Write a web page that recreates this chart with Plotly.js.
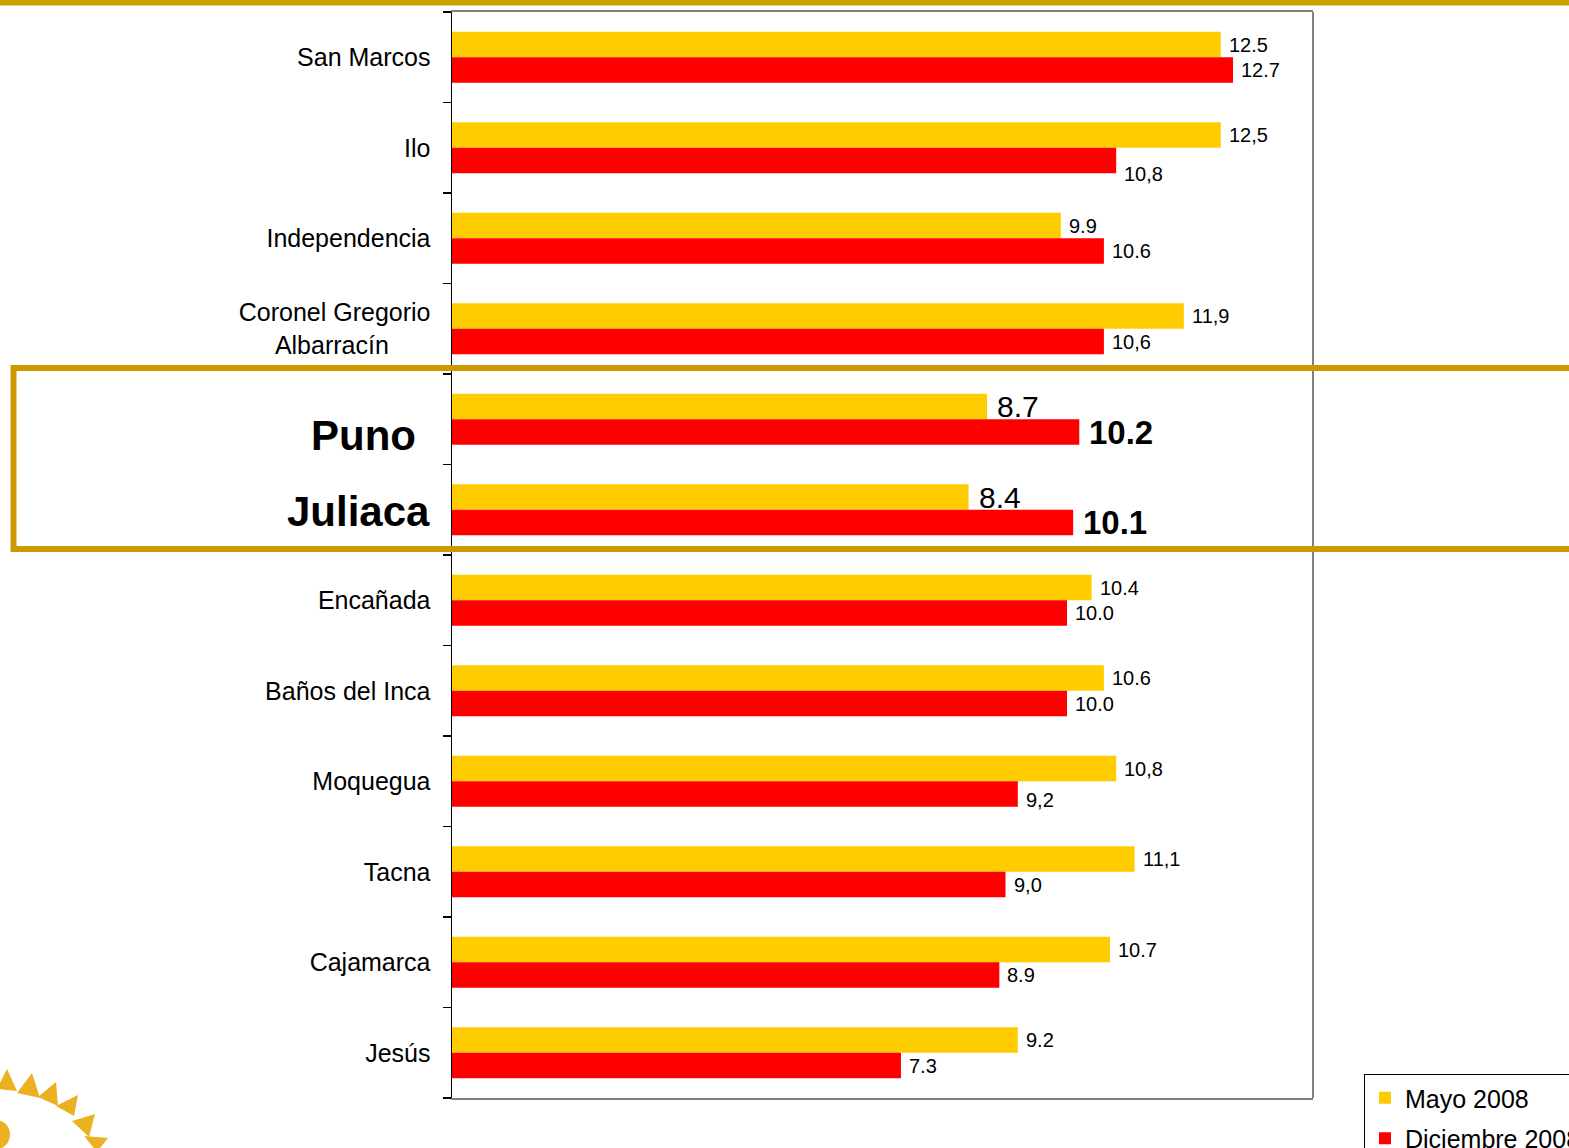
<!DOCTYPE html>
<html>
<head>
<meta charset="utf-8">
<script src="https://cdn.plot.ly/plotly-3.0.1.min.js"></script>
<style>
  html, body { margin: 0; padding: 0; background: #ffffff; }
  #chart { width: 1569px; height: 1148px; }
</style>
</head>
<body>
<div id="chart"></div>
<script>
// ---- Data ----
const categories = ["San Marcos", "Ilo", "Independencia", "Coronel Gregorio Albarracín", "Puno", "Juliaca",
                    "Encañada", "Baños del Inca", "Moquegua", "Tacna", "Cajamarca", "Jesús"];
const tickLabels = ["San Marcos", "Ilo", "Independencia", "Coronel Gregorio<br>Albarracín\u00a0\u00a0\u00a0\u00a0\u00a0\u00a0", "", "",
                    "Encañada", "Baños del Inca", "Moquegua", "Tacna", "Cajamarca", "Jesús"];
const mayo2008 = [12.5, 12.5, 9.9, 11.9, 8.7, 8.4, 10.4, 10.6, 10.8, 11.1, 10.7, 9.2];
const diciembre2008 = [12.7, 10.8, 10.6, 10.6, 10.2, 10.1, 10.0, 10.0, 9.2, 9.0, 8.9, 7.3];
const mayoLabels = ["12.5", "12,5", "9.9", "11,9", "8.7", "8.4", "10.4", "10.6", "10,8", "11,1", "10.7", "9.2"];
const diciembreLabels = ["12.7", "10,8", "10.6", "10,6", "10.2", "10.1", "10.0", "10.0", "9,2", "9,0", "8.9", "7.3"];
const seriesNames = ["Mayo 2008", "Diciembre 2008"];
const highlighted = ["Puno", "Juliaca"];

// ---- Geometry helpers (decorations only) ----
const L = 452, T = 12, PW = 861, PH = 1086;
const px = X => (X - L) / PW;
const py = Y => 1 - (Y - T) / PH;
const FONT = "Liberation Sans, Arial, sans-serif";
const YELLOW = "#FFCC00", RED = "#FF0000";

const traces = [
  { type: "bar", orientation: "h", name: seriesNames[0], y: categories, x: mayo2008,
    marker: { color: YELLOW, line: { width: 0 } }, legendgroup: "a", hoverinfo: "x+y" },
  { type: "bar", orientation: "h", name: seriesNames[1], y: categories, x: diciembre2008,
    marker: { color: RED, line: { width: 0 } }, legendgroup: "b", hoverinfo: "x+y" }
];

// ---- Value labels ----
const annotations = [];
const redNudge = { "Ilo": -13, "Moquegua": -6 };
categories.forEach((c, i) => {
  const hi = highlighted.includes(c);
  annotations.push({
    x: mayo2008[i], y: c, xref: "x", yref: "y", text: mayoLabels[i], showarrow: false,
    xanchor: "left", yanchor: "middle", xshift: hi ? 8 : 6, yshift: 12.75,
    font: { family: FONT, size: hi ? 30 : 20, color: "#000" }
  });
  annotations.push({
    x: diciembre2008[i], y: c, xref: "x", yref: "y",
    text: hi ? "<b>" + diciembreLabels[i] + "</b>" : diciembreLabels[i], showarrow: false,
    xanchor: "left", yanchor: "middle", xshift: hi ? 8 : 6, yshift: -12.75 + (redNudge[c] || 0),
    font: { family: FONT, size: hi ? 33 : 20, color: "#000" }
  });
});
// Highlighted category labels (bold, large)
annotations.push({ x: 0, y: "Puno", xref: "paper", yref: "y", text: "<b>Puno</b>", showarrow: false,
  xanchor: "right", yanchor: "middle", xshift: -34, yshift: -16, font: { family: FONT, size: 42, color: "#000" } });
annotations.push({ x: 0, y: "Juliaca", xref: "paper", yref: "y", text: "<b>Juliaca</b>", showarrow: false,
  xanchor: "right", yanchor: "middle", xshift: -20, yshift: -2, font: { family: FONT, size: 42, color: "#000" } });

// ---- Decorative shapes ----
const GOLD = "#C9A000", BOXGOLD = "#CC9A00", SUN = "#EBB120";
const shapes = [
  { type: "rect", xref: "paper", yref: "paper", x0: px(-5), x1: px(1580), y0: py(5.5), y1: py(-5),
    fillcolor: GOLD, line: { width: 0 }, layer: "above" },
  { type: "line", xref: "paper", yref: "paper", x0: px(1313), x1: px(1313), y0: 0, y1: 1,
    line: { color: "#808080", width: 2 }, layer: "above" },
  { type: "rect", xref: "paper", yref: "paper", x0: px(13.5), x1: px(1600), y0: py(549), y1: py(368),
    line: { color: BOXGOLD, width: 6 }, fillcolor: "rgba(0,0,0,0)", layer: "above" },
  { type: "circle", xref: "paper", yref: "paper", x0: px(-17), x1: px(10), y0: py(1149), y1: py(1120),
    fillcolor: SUN, line: { width: 0 } }
];
const tris = [
  [[-3, 1089], [7, 1069], [17, 1091]],
  [[17, 1093], [32, 1073], [40, 1098]],
  [[38, 1097], [56, 1082], [58, 1106]],
  [[56, 1106], [78, 1095], [74, 1116]],
  [[72, 1121], [95, 1114], [89, 1137]],
  [[84, 1136], [108, 1138], [97, 1152]]
];
tris.forEach(t => {
  const path = "M" + t.map(p => px(p[0]) + "," + py(p[1])).join(" L") + " Z";
  shapes.push({ type: "path", xref: "paper", yref: "paper", path: path, fillcolor: SUN, line: { width: 0 } });
});

const layout = {
  width: 1569, height: 1148,
  margin: { l: L, r: 1569 - L - PW, t: T, b: 1148 - T - PH, autoexpand: false },
  paper_bgcolor: "#ffffff", plot_bgcolor: "#ffffff",
  barmode: "group", bargap: 0.436, bargroupgap: 0,
  font: { family: FONT, color: "#000" },
  xaxis: { range: [0, 14], showgrid: false, zeroline: false, showticklabels: false, ticks: "",
           showline: true, mirror: true, linecolor: "#808080", linewidth: 2, fixedrange: true },
  yaxis: { type: "category", autorange: "reversed", categoryorder: "array", categoryarray: categories,
           tickmode: "array", tickvals: categories, ticktext: tickLabels,
           showgrid: false, zeroline: false, showline: true, linecolor: "#000", linewidth: 1.5,
           ticks: "outside", ticklen: 8, tickwidth: 1.5, tickcolor: "#000", tickson: "boundaries",
           ticklabelstandoff: 15, tickfont: { family: FONT, size: 25, color: "#000" }, fixedrange: true },
  showlegend: true,
  legend: { x: px(1364), y: py(1074), xanchor: "left", yanchor: "top", orientation: "v",
            bgcolor: "#ffffff", bordercolor: "#000", borderwidth: 1,
            font: { family: FONT, size: 25, color: "#000" }, traceorder: "grouped",
            tracegroupgap: 5, itemwidth: 30, valign: "top" },
  annotations: annotations,
  shapes: shapes
};

Plotly.newPlot("chart", traces, layout, { displayModeBar: false, staticPlot: true });
</script>
</body>
</html>
